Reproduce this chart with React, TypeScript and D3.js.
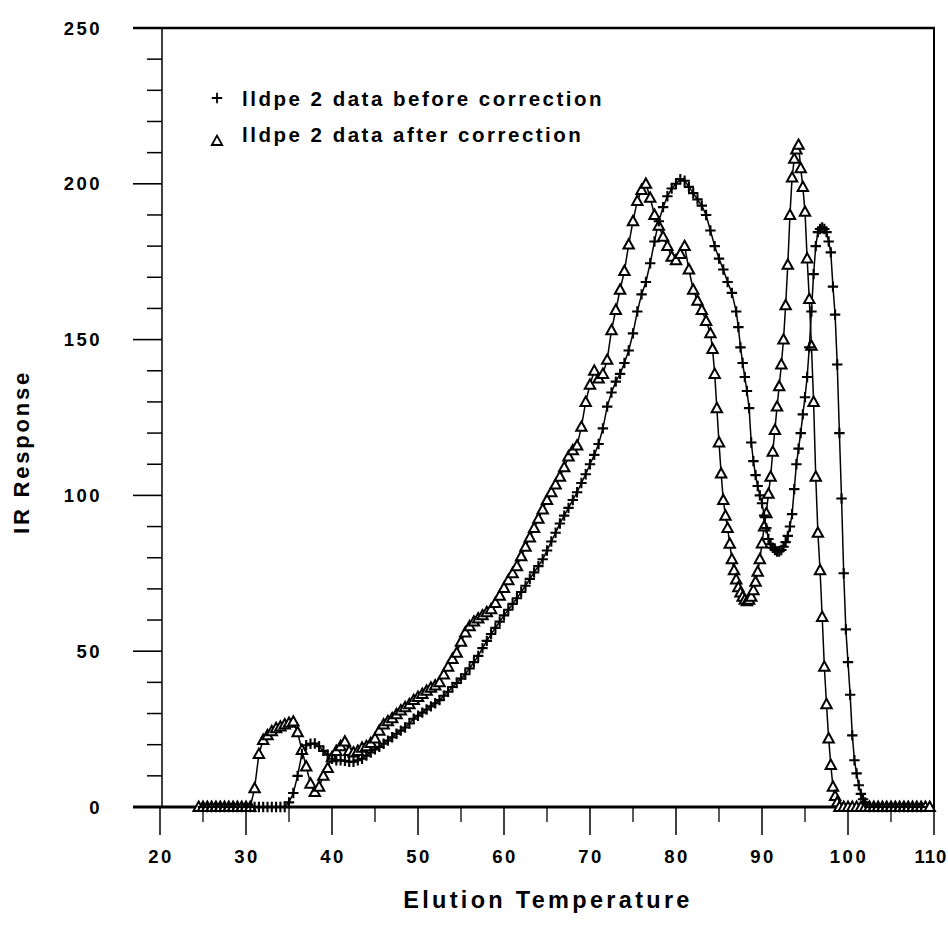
import React from 'react';
import * as d3 from 'd3';

const afterTemp = [
  24.5, 25, 25.5, 26, 26.5, 27, 27.5, 28, 28.5, 29, 29.5, 30, 30.5,
  31, 31.5, 32, 32.5, 33, 33.5, 34, 34.5, 35, 35.5, 36, 36.5, 37, 37.5, 38, 38.5, 39, 39.5,
  40, 40.5, 41, 41.5, 42, 42.5, 43, 43.5, 44, 44.5, 45, 45.5, 46, 46.5, 47, 47.5, 48, 48.5, 49, 49.5,
  50, 50.5, 51, 51.5, 52, 52.5, 53, 53.5, 54, 54.5, 55, 55.5, 56, 56.5, 57, 57.5, 58, 58.5, 59, 59.5,
  60, 60.5, 61, 61.5, 62, 62.5, 63, 63.5, 64, 64.5, 65, 65.5, 66, 66.5, 67, 67.5, 68, 68.5, 69, 69.5,
  70, 70.5, 71, 71.5, 72, 72.5, 73, 73.5, 74, 74.5, 75, 75.5, 76, 76.5, 77, 77.5, 78, 78.5, 79, 79.5,
  80, 80.5, 81, 81.5, 82, 82.5, 83, 83.5, 84, 84.25, 84.5, 84.75, 85, 85.25, 85.5, 85.75, 86, 86.25, 86.5, 86.75,
  87, 87.25, 87.5, 87.75, 88, 88.25, 88.5, 88.75, 89, 89.25, 89.5, 89.75, 90, 90.25, 90.5, 90.75,
  91, 91.25, 91.5, 91.75, 92, 92.25, 92.5, 92.75, 93, 93.25, 93.5, 93.75, 94, 94.25, 94.5, 94.75,
  95, 95.25, 95.5, 95.75, 96, 96.25, 96.5, 96.75, 97, 97.25, 97.5, 97.75, 98, 98.25, 98.5, 98.75,
  99, 99.5, 100, 100.5, 101, 101.5, 102, 102.5, 103, 103.5, 104, 104.5, 105, 105.5, 106, 106.5, 107, 107.5, 108, 108.5, 109, 109.5,
];
const afterResp = [
  0, 0, 0, 0, 0, 0, 0, 0, 0, 0, 0, 0, 0,
  6, 17, 21.5, 23, 24.3, 25.3, 25.8, 26.5, 27, 27.4, 24, 18.3, 13, 7.5, 4.8, 6.5, 10, 12.5,
  16, 18, 19.5, 21, 18, 17.5, 18, 19, 19.5, 20.5, 22, 24.5, 26.5, 27.5, 28.5, 29.8, 31, 32, 33, 34.3,
  35.3, 36.3, 37.3, 38.3, 39, 40, 42.5, 45, 47.5, 49.5, 53, 56, 58, 59.5, 60.5, 61.5, 62.5, 63.5, 65.5, 67.8,
  70.3, 72.8, 75, 77.3, 80.5, 83.5, 86.5, 89.5, 92.5, 95.5, 98.5, 101, 103.5, 106, 109, 112.5, 114.5, 116, 122, 130,
  135.5, 140, 137.5, 139, 143.5, 153, 159.5, 166, 172, 180.5, 188, 194.5, 198, 200, 195.5, 190, 186.5, 183, 180, 176.6,
  175.5, 177.5, 180, 172.5, 166, 162.5, 159.5, 156, 152, 147, 139, 128, 117, 107, 98.5, 93.5, 89.5, 84.5, 79.5, 76,
  73, 70.5, 68.8, 67.5, 66.5, 66, 66.5, 67.5, 69.6, 72.3, 75.5, 79.5, 84.6, 90, 94.3, 100.5,
  106, 114, 121, 128.5, 135, 142, 150, 161, 174, 190, 202, 208, 211, 212.5, 205, 199,
  191, 176, 163, 148, 130, 106, 88, 76, 61, 45, 33, 22, 13.5, 6.5, 3.5, 1.5,
  0, 0, 0, 0, 0, 0, 0, 0, 0, 0, 0, 0, 0, 0, 0, 0, 0, 0, 0, 0, 0, 0,
];

const beforeTemp = [
  25, 25.5, 26, 26.5, 27, 27.5, 28, 28.5, 29, 29.5, 30, 30.5, 31, 31.5, 32, 32.5, 33, 33.5, 34, 34.5,
  35, 35.5, 36, 36.5, 37, 37.5, 38, 38.5, 39, 39.5, 40, 40.5, 41, 41.5, 42, 42.5, 43, 43.5, 44, 44.5,
  45, 45.5, 46, 46.5, 47, 47.5, 48, 48.5, 49, 49.5, 50, 50.5, 51, 51.5, 52, 52.5, 53, 53.5, 54, 54.5,
  55, 55.5, 56, 56.5, 57, 57.5, 58, 58.5, 59, 59.5, 60, 60.5, 61, 61.5, 62, 62.5, 63, 63.5, 64, 64.5,
  65, 65.5, 66, 66.5, 67, 67.5, 68, 68.5, 69, 69.5, 70, 70.5, 71, 71.5, 72, 72.5, 73, 73.5, 74, 74.5,
  75, 75.5, 76, 76.5, 77, 77.5, 78, 78.5, 79, 79.5, 80, 80.5, 81, 81.5, 82, 82.5, 83, 83.5, 84, 84.5,
  85, 85.5, 86, 86.5, 87, 87.25, 87.5, 87.75, 88, 88.25, 88.5, 88.75, 89, 89.25, 89.5, 89.75,
  90, 90.25, 90.5, 90.75, 91, 91.25, 91.5, 91.75, 92, 92.25, 92.5, 92.75, 93, 93.25, 93.5, 93.75,
  94, 94.25, 94.5, 94.75, 95, 95.25, 95.5, 95.75, 96, 96.25, 96.5, 96.75, 97, 97.25, 97.5, 97.75,
  98, 98.25, 98.5, 98.75, 99, 99.25, 99.5, 99.75, 100, 100.25, 100.5, 100.75, 101, 101.25, 101.5, 101.75,
  102, 102.5, 103, 103.5, 104, 104.5, 105, 105.5, 106, 106.5, 107, 107.5, 108, 108.5,
];
const beforeResp = [
  0, 0, 0, 0, 0, 0, 0, 0, 0, 0, 0, 0, 0, 0, 0, 0, 0, 0, 0, 0,
  1.5, 4.5, 10, 17, 19.8, 20.3, 20.4, 19.5, 18, 16.8, 15.5, 15, 15, 14.8, 14.5, 14.5, 15, 15.5, 16.5, 17.5,
  18.5, 19.3, 20.3, 21.3, 22.4, 23.5, 24.5, 25.5, 26.8, 28.3, 29.3, 30.3, 31.3, 32.3, 33.3, 34.3, 35.7, 37, 38.5, 39.8,
  41.2, 42.6, 44.5, 46.5, 48.5, 51, 53.3, 55.5, 57.5, 59.5, 61.5, 63.3, 65.2, 67, 69, 71, 73.2, 75.3, 77.3, 79.5,
  82.3, 85.2, 88, 91, 93.5, 96, 98.5, 101, 104, 106.8, 110, 113, 116.5, 121.5, 128.5, 133, 136.5, 139, 142.5, 146.5,
  152, 159, 164.5, 168.5, 174.5, 181.5, 188, 192.5, 196, 198.5, 200, 201.5, 201, 199, 197, 195, 193, 190, 185, 180,
  176, 172.5, 168.5, 165, 159, 154, 147.5, 142.5, 138, 133.5, 128, 117, 111, 106.5, 103, 100,
  97.5, 93.5, 89.5, 86, 84.3, 83.2, 82.5, 82, 82, 82.5, 83.5, 85, 87, 90, 94, 102,
  110, 115, 120, 126, 131.5, 138, 147.5, 159, 171, 180, 184.5, 185.5, 186, 185.5, 184.5, 181.5,
  178, 167, 158, 142, 120, 99, 75, 57, 46.5, 36, 23, 15, 10.8, 7, 4.2, 2.5,
  1.5, 0, 0, 0, 0, 0, 0, 0, 0, 0, 0, 0, 0, 0,
];

const xTickLabels = [20, 30, 40, 50, 60, 70, 80, 90, 100, 110];
const yTickLabels = [0, 50, 100, 150, 200, 250];
const legendLabels = ['lldpe 2 data before correction', 'lldpe 2 data after correction'];
const xTitle = 'Elution Temperature';
const yTitle = 'IR Response';

const FONT = '"Liberation Sans", Arial, Helvetica, sans-serif';
const TRI = 'M0,-5.4L5.2,4L-5.2,4Z';
const PLUS = 'M-5.2,0H5.2M0,-5.2V5.2';

export default function App() {
  const x = d3.scaleLinear().domain([20, 110]).range([160, 934]);
  const y = d3.scaleLinear().domain([0, 250]).range([807, 28]);
  const line = d3
    .line<[number, number]>()
    .x((d) => x(d[0]))
    .y((d) => y(d[1]));
  const after: [number, number][] = afterTemp.map((t, i) => [t, afterResp[i]]);
  const before: [number, number][] = beforeTemp.map((t, i) => [t, beforeResp[i]]);
  const minorX = d3.range(25, 110, 10);
  const minorY = d3.range(10, 250, 10).filter((v) => v % 50 !== 0);

  return (
    <svg
      width={948}
      height={935}
      style={{ position: 'absolute', left: 0, top: 0, background: '#fff' }}
      fontFamily={FONT}
      fontWeight="bold"
    >
      <rect x={0} y={0} width={948} height={935} fill="#fff" />
      {/* frame */}
      <line x1={133} x2={935} y1={y(250)} y2={y(250)} stroke="#000" strokeWidth={2.5} />
      <line x1={934} x2={934} y1={y(250)} y2={y(0)} stroke="#000" strokeWidth={2} />
      <line x1={x(20) + 2} x2={x(20) + 2} y1={y(250)} y2={y(0)} stroke="#000" strokeWidth={1.5} />
      {/* y ticks */}
      {yTickLabels.map((v) => (
        <g key={'yt' + v}>
          <line x1={133} x2={162} y1={y(v)} y2={y(v)} stroke="#000" strokeWidth={1.6} />
          <text x={102} y={y(v)} dy="0.36em" textAnchor="end" fontSize={18.5} letterSpacing={2.5}>
            {v}
          </text>
        </g>
      ))}
      {minorY.map((v) => (
        <line key={'ym' + v} x1={147} x2={162} y1={y(v)} y2={y(v)} stroke="#000" strokeWidth={1.5} />
      ))}
      {/* x ticks */}
      {xTickLabels.map((v) => (
        <g key={'xt' + v}>
          <line x1={x(v)} x2={x(v)} y1={y(0)} y2={y(0) + 28} stroke="#000" strokeWidth={1.5} />
          <text
            x={v === 110 ? 931 : x(v) + 1}
            y={863}
            textAnchor="middle"
            fontSize={18.5}
            letterSpacing={v === 110 ? 1 : 2.5}
          >
            {v}
          </text>
        </g>
      ))}
      {minorX.map((v) => (
        <line key={'xm' + v} x1={x(v)} x2={x(v)} y1={y(0)} y2={y(0) + 15} stroke="#000" strokeWidth={1.3} />
      ))}
      <line x1={133} x2={935} y1={y(0)} y2={y(0)} stroke="#000" strokeWidth={3} />

      {/* series */}
      <path d={line(after) || ''} fill="none" stroke="#000" strokeWidth={1.5} />
      <path d={line(before) || ''} fill="none" stroke="#000" strokeWidth={1.5} />
      {after.map((d, i) => (
        <path
          key={'a' + i}
          d={TRI}
          transform={`translate(${x(d[0])},${y(d[1])})`}
          fill="#fff"
          stroke="#000"
          strokeWidth={2}
        />
      ))}
      {before.map((d, i) => (
        <path
          key={'b' + i}
          d={PLUS}
          transform={`translate(${x(d[0])},${y(d[1])})`}
          fill="none"
          stroke="#000"
          strokeWidth={2.1}
        />
      ))}

      {/* legend */}
      <path d={PLUS} transform="translate(217,98)" fill="none" stroke="#000" strokeWidth={1.8} />
      <text x={242} y={106} fontSize={20.5} letterSpacing={2.5}>
        {legendLabels[0]}
      </text>
      <path d={TRI} transform="translate(217,141)" fill="#fff" stroke="#000" strokeWidth={1.8} />
      <text x={242} y={142} fontSize={20.5} letterSpacing={2.5}>
        {legendLabels[1]}
      </text>

      {/* titles */}
      <text x={548} y={908} textAnchor="middle" fontSize={23.5} letterSpacing={3.3}>
        {xTitle}
      </text>
      <text
        transform="translate(29,452) rotate(-90)"
        textAnchor="middle"
        fontSize={22}
        letterSpacing={2.8}
      >
        {yTitle}
      </text>
    </svg>
  );
}
